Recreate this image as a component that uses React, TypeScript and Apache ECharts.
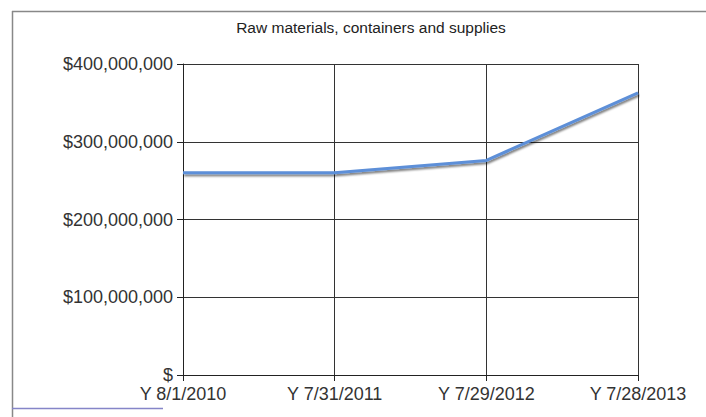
import React, { useEffect, useRef } from "react";
import * as echarts from "echarts";

const title = "Raw materials, containers and supplies";
const categories = ["Y 8/1/2010", "Y 7/31/2011", "Y 7/29/2012", "Y 7/28/2013"];
const values = [260000000, 260000000, 276000000, 363000000];
const yTicks = { min: 0, max: 400000000, interval: 100000000 };

const fmt = (v: number) => (v === 0 ? "$" : "$" + v.toLocaleString("en-US"));

export default function App() {
  const ref = useRef<HTMLDivElement>(null);
  useEffect(() => {
    if (!ref.current) return;
    const chart = echarts.init(ref.current, null, { renderer: "svg" });
    const font = "'Liberation Sans', Arial, sans-serif";
    chart.setOption({
      animation: false,
      backgroundColor: "#ffffff",
      title: {
        text: title,
        left: 366,
        top: 14,
        textAlign: "center",
        textStyle: { fontFamily: font, fontSize: 15.5, fontWeight: "normal", color: "#222" },
      },
      grid: { left: 183, right: 68, top: 64, bottom: 42, containLabel: false },
      xAxis: {
        type: "category",
        data: categories,
        boundaryGap: false,
        axisLine: { lineStyle: { color: "#222", width: 1 } },
        axisTick: { show: true, length: 6, lineStyle: { color: "#222" } },
        axisLabel: { fontFamily: font, fontSize: 18, lineHeight: 14, color: "#333", margin: 12, interval: 0 },
        splitLine: { show: true, lineStyle: { color: "#333", width: 1 } },
      },
      yAxis: {
        type: "value",
        min: yTicks.min,
        max: yTicks.max,
        interval: yTicks.interval,
        axisLine: { show: true, lineStyle: { color: "#222", width: 1 } },
        axisTick: { show: true, length: 6, lineStyle: { color: "#222" } },
        axisLabel: { fontFamily: font, fontSize: 18, lineHeight: 12, color: "#333", margin: 10, formatter: fmt },
        splitLine: { show: true, lineStyle: { color: "#333", width: 1 } },
      },
      series: [
        {
          type: "line",
          data: values,
          symbol: "none",
          lineStyle: {
            color: "#5d8fd8",
            width: 3,
            shadowColor: "rgba(0,0,0,0.55)",
            shadowOffsetX: 1,
            shadowOffsetY: 2,
            shadowBlur: 2,
          },
        },
      ],
      graphic: [
        { type: "line", shape: { x1: 12, y1: 11.5, x2: 706, y2: 11.5 }, style: { stroke: "#888", lineWidth: 1.5 } },
        { type: "line", shape: { x1: 12.5, y1: 11, x2: 12.5, y2: 417 }, style: { stroke: "#888", lineWidth: 1.5 } },
        { type: "line", shape: { x1: 12, y1: 408.5, x2: 163, y2: 408.5 }, style: { stroke: "#8585c8", lineWidth: 1.5 } },
      ],
    });
    return () => chart.dispose();
  }, []);
  return (
    <div
      ref={ref}
      style={{ position: "fixed", left: 0, top: 0, width: 706, height: 417, background: "#fff" }}
    />
  );
}
